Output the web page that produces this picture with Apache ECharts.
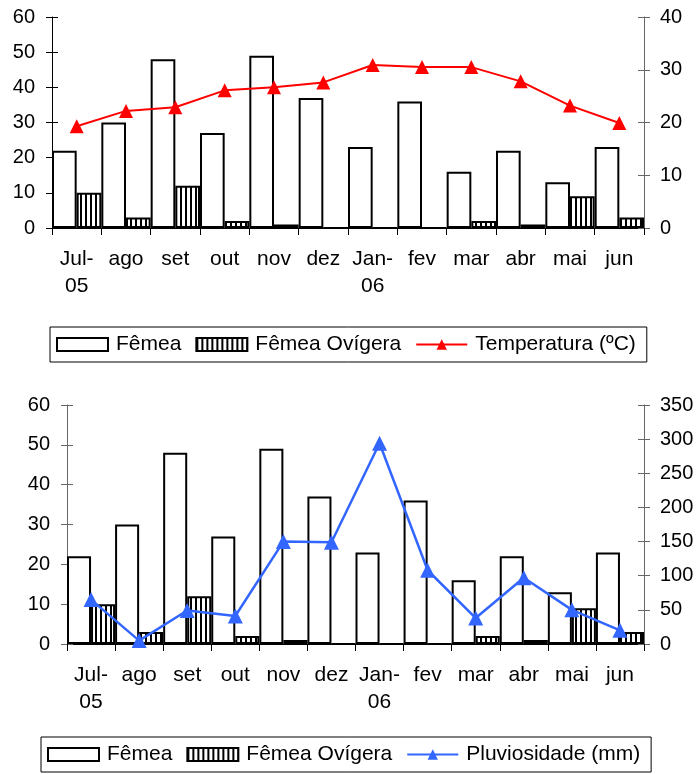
<!DOCTYPE html>
<html>
<head>
<meta charset="utf-8">
<script src="https://cdn.jsdelivr.net/npm/echarts@6/dist/echarts.min.js"></script>
<style>
html,body{margin:0;padding:0;background:#fff;}
#c{width:697px;height:774px;}
</style>
</head>
<body>
<div id="c"></div>
<script>
const months = ['Jul-\n05','ago','set','out','nov','dez','Jan-\n06','fev','mar','abr','mai','jun'];
const femea = [22,30,48,27,49,37,23,36,16,22,13,23];
const ovigera = [10,3,12,2,1,0,0,0,2,1,9,3];
const temperatura = [19.3,22.2,22.9,26.1,26.7,27.6,30.9,30.5,30.5,27.8,23.2,19.9];
const pluviosidade = [65,5,49,41,150,149,294,108,38,97,50,20];

const FONT = '"Liberation Sans", Arial, sans-serif';

// vertical stripe pattern
const pc = document.createElement('canvas');
pc.width = 5; pc.height = 10;
const g = pc.getContext('2d');
g.fillStyle = '#fff'; g.fillRect(0,0,5,10);
g.fillStyle = '#000'; g.fillRect(0,0,2,10);
const stripe = {image: pc, repeat: 'repeat'};

function xAxis(gi){
  return {
    type:'category', gridIndex:gi, data:months,
    boundaryGap:true,
    axisLine:{lineStyle:{color:'#000',width:1}},
    axisTick:{show:true,length:7,lineStyle:{color:'#000'}},
    axisLabel:{color:'#000',fontSize:21,fontFamily:FONT,margin:18,lineHeight:27,interval:0}
  };
}
function yAxis(gi,pos,max,interval,lineColor,labels){
  return {
    type:'value', gridIndex:gi, position:pos, min:0, max:max, interval:interval,
    splitLine:{show:false},
    axisLine:{show:labels,lineStyle:{color:lineColor,width:1}},
    axisTick:{show:true,inside:!labels,length:6,lineStyle:{color:lineColor}},
    axisLabel:{show:labels,color:'#000',fontSize:20,fontFamily:FONT,margin:pos==='left'?17:16}
  };
}

const barFemea = (gi)=>({
  name:'Fêmea', type:'bar', xAxisIndex:gi, yAxisIndex:gi*4, data:femea,
  barGap:'0%', barCategoryGap:'0%',
  itemStyle:{color:'#fff',borderColor:'#000',borderWidth:2},
  emphasis:{disabled:true}, z:2
});
const barOvi = (gi)=>({
  name:'Fêmea Ovígera', type:'bar', xAxisIndex:gi, yAxisIndex:gi*4, data:ovigera,
  barGap:'0%', barCategoryGap:'0%',
  itemStyle:{color:stripe,borderColor:'#000',borderWidth:2},
  emphasis:{disabled:true}, z:2
});

const legendCommon = {
  orient:'horizontal', borderColor:'#000', borderWidth:1,
  padding:[7,11,7,6], itemWidth:51, itemHeight:13, itemGap:14,
  textStyle:{color:'#000',fontSize:21,fontFamily:FONT,padding:[0,0,0,3],lineHeight:20},
  selectedMode:false
};

const option = {
  animation:false,
  backgroundColor:'#fff',
  grid:[
    {left:52,right:53,top:17,height:211},
    {left:67,right:53,top:405,height:239}
  ],
  xAxis:[xAxis(0),xAxis(1)],
  yAxis:[
    yAxis(0,'left',60,10,'#000',true),
    yAxis(0,'right',40,10,'#666',true),
    yAxis(0,'left',60,10,'#000',false),
    yAxis(0,'right',40,10,'#666',false),
    yAxis(1,'left',60,10,'#666',true),
    yAxis(1,'right',350,50,'#666',true),
    yAxis(1,'left',60,10,'#666',false),
    yAxis(1,'right',350,50,'#666',false)
  ],
  legend:[
    Object.assign({}, legendCommon, {left:50, top:327,
      data:[{name:'Fêmea',icon:'rect'},{name:'Fêmea Ovígera',icon:'rect'},'Temperatura (ºC)']}),
    Object.assign({}, legendCommon, {left:41, top:737,
      data:[{name:'Fêmea',icon:'rect'},{name:'Fêmea Ovígera',icon:'rect'},'Pluviosidade (mm)']})
  ],
  series:[
    barFemea(0), barOvi(0),
    {name:'Temperatura (ºC)', type:'line', xAxisIndex:0, yAxisIndex:1, data:temperatura,
      symbol:'triangle', symbolSize:14, lineStyle:{color:'#ff0000',width:2},
      itemStyle:{color:'#ff0000'}, emphasis:{disabled:true}, z:5},
    barFemea(1), barOvi(1),
    {name:'Pluviosidade (mm)', type:'line', xAxisIndex:1, yAxisIndex:5, data:pluviosidade,
      symbol:'triangle', symbolSize:15, lineStyle:{color:'#3366ff',width:2.5},
      itemStyle:{color:'#3366ff'}, emphasis:{disabled:true}, z:5}
  ]
};
const chart = echarts.init(document.getElementById('c'), null, {renderer:'canvas'});
chart.setOption(option);
</script>
</body>
</html>
